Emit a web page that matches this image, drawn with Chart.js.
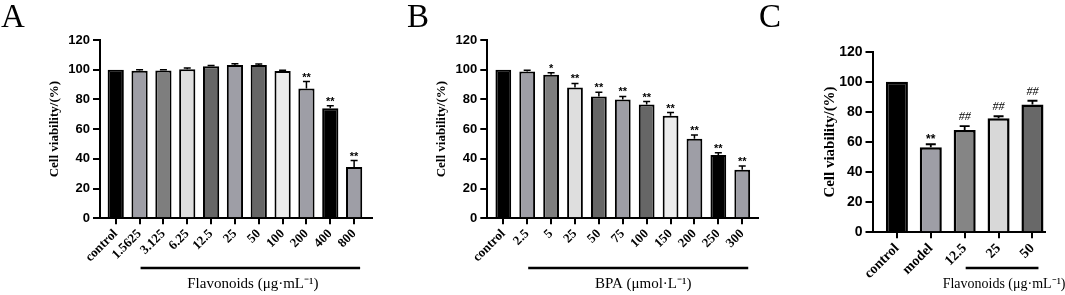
<!DOCTYPE html>
<html>
<head>
<meta charset="utf-8">
<script src="https://cdn.jsdelivr.net/npm/chart.js@4/dist/chart.umd.min.js"></script>
<style>
  body { margin: 0; background: #fff; }
  #wrap { position: relative; width: 1065px; height: 295px; overflow: hidden; }
  canvas { position: absolute; top: 0; }
  .tag { position: absolute; top: 0; font: 33px "Liberation Serif", serif; line-height: 33px; color: #000; }
</style>
</head>
<body>
<div id="wrap">
  <canvas id="chartA" width="380" height="295" style="left:0"></canvas>
  <canvas id="chartB" width="380" height="295" style="left:380px"></canvas>
  <canvas id="chartC" width="305" height="295" style="left:760px"></canvas>
  <div class="tag" style="left:1px">A</div>
  <div class="tag" style="left:407px">B</div>
  <div class="tag" style="left:759px">C</div>
</div>
<script>
// panel A: flavonoid dose series
const catsA = ['control', '1.5625', '3.125', '6.25', '12.5', '25', '50', '100', '200', '400', '800'];
const valsA = [100, 99.3, 99.5, 100.3, 102.3, 103.2, 103.2, 99.2, 87.4, 74, 34.5];
const errA  = [0, 0.7, 0.5, 0.8, 0.5, 0.8, 0.6, 0.5, 4.6, 1.7, 4.4];
const sigA  = ['', '', '', '', '', '', '', '', '**', '**', '**'];

// panel B: BPA dose series
const catsB = ['control', '2.5', '5', '25', '50', '75', '100', '150', '200', '250', '300'];
const valsB = [100, 98.8, 96.6, 88.1, 82, 80, 76.6, 69, 53.5, 42.6, 32.6];
const errB  = [0, 0.8, 1.4, 2.7, 2.9, 2, 2, 2.2, 2.5, 1.6, 2.6];
const sigB  = ['', '', '*', '**', '**', '**', '**', '**', '**', '**', '**'];

// panel C: protection
const catsC = ['control', 'model', '12.5', '25', '50'];
const valsC = [100, 56.5, 68, 75.8, 85];
const errC  = [0, 2, 2.6, 1.3, 2.4];
const sigC  = ['', '**', '##', '##', '##'];

const yTicks = [0, 20, 40, 60, 80, 100, 120];

const BLACK = '#000', MID = '#9e9ea6', DARK = '#7e7e7e', DARKER = '#666666', LIGHT = '#dedede', PALE = '#ececec';
const colorsA = [BLACK, MID, DARK, LIGHT, DARKER, MID, DARKER, PALE, MID, BLACK, MID];
const colorsB = [BLACK, MID, DARK, LIGHT, DARKER, MID, DARKER, PALE, MID, BLACK, MID];
const colorsC = [BLACK, MID, '#858585', '#d8d8d8', '#686868'];

function extras(p) {
  return {
    id: 'extras',
    afterDatasetsDraw(chart) {
      const ctx = chart.ctx, xs = chart.scales.x, ys = chart.scales.y;
      ctx.save();
      ctx.strokeStyle = '#000';
      ctx.fillStyle = '#000';
      p.vals.forEach((v, i) => {
        const cx = xs.getPixelForValue(i);
        const e = p.errs[i];
        const top = ys.getPixelForValue(v + e);
        if (e > 0) {
          ctx.lineWidth = p.errWidth;
          ctx.beginPath();
          ctx.moveTo(cx, ys.getPixelForValue(v));
          ctx.lineTo(cx, top);
          ctx.moveTo(cx - p.cap, top);
          ctx.lineTo(cx + p.cap, top);
          ctx.stroke();
        }
        const m = p.marks[i];
        if (m) {
          const hash = m[0] === '#';
          ctx.font = hash ? p.hashFont : p.starFont;
          ctx.textAlign = 'center';
          ctx.textBaseline = 'alphabetic';
          ctx.fillText(m, cx, top - (hash ? p.hashGap : p.starGap));
        }
      });
      // bracket line under the treated groups
      const x1 = xs.getPixelForValue(p.from) + 1;
      const x2 = xs.getPixelForValue(p.to) + 6;
      ctx.lineWidth = 2.3;
      ctx.beginPath();
      ctx.moveTo(x1, p.lineY);
      ctx.lineTo(x2, p.lineY);
      ctx.stroke();
      ctx.font = p.groupFont;
      ctx.textAlign = 'center';
      ctx.textBaseline = 'middle';
      ctx.fillText(p.groupTitle, (x1 + x2) / 2 + p.shift, p.groupY);
      ctx.restore();
    }
  };
}

function makePanel(id, cats, vals, errs, marks, colors, s) {
  return new Chart(id, {
    type: 'bar',
    data: {
      datasets: [{
        data: vals.map((v, i) => ({ x: i, y: v })),
        backgroundColor: colors,
        borderColor: '#000',
        borderWidth: s.barBorder,
        barPercentage: s.barPct,
        categoryPercentage: 1
      }]
    },
    options: {
      responsive: false,
      animation: false,
      layout: { padding: { top: s.top, right: s.right, bottom: 0, left: 0 } },
      plugins: { legend: { display: false }, tooltip: { enabled: false } },
      scales: {
        x: {
          type: 'linear',
          offset: false,
          min: s.xMin,
          max: s.xMax,
          afterBuildTicks: sc => { sc.ticks = cats.map((c, i) => ({ value: i })); },
          afterFit: sc => { sc.height = 295 - s.bottom; },
          grid: { offset: false, drawOnChartArea: false, tickLength: 6, lineWidth: 2, color: '#000' },
          border: { color: '#000', width: 2 },
          ticks: {
            autoSkip: false,
            minRotation: 45,
            maxRotation: 45,
            padding: 2,
            color: '#000',
            font: { family: 'Liberation Serif', weight: 'bold', size: s.xFont },
            callback: v => cats[Math.round(v)]
          }
        },
        y: {
          min: 0,
          max: 120,
          afterBuildTicks: sc => { sc.ticks = yTicks.map(v => ({ value: v })); },
          afterFit: sc => { sc.width = s.left; },
          grid: { drawOnChartArea: false, tickLength: 7, lineWidth: 2, color: '#000' },
          border: { color: '#000', width: 2 },
          ticks: {
            padding: 3,
            color: '#000',
            font: { family: 'Liberation Sans', weight: 'bold', size: s.yFont }
          },
          title: {
            display: true,
            text: 'Cell viability/(%)',
            color: '#000',
            padding: { top: s.titlePad, bottom: 0 },
            font: { family: 'Liberation Serif', weight: 'bold', size: s.titleFont }
          }
        }
      }
    },
    plugins: [extras({
      vals, errs, marks,
      errWidth: s.errWidth, cap: s.cap,
      starFont: 'bold ' + s.markFont + 'px "Liberation Sans"',
      hashFont: 'italic ' + s.markFont + 'px "Liberation Serif"',
      starGap: 1, hashGap: 6,
      from: s.from, to: s.to, lineY: 268,
      groupTitle: s.groupTitle, groupFont: s.groupFont + 'px "Liberation Serif"',
      groupY: 284.5, shift: s.shift
    })]
  });
}

makePanel('chartA', catsA, valsA, errA, sigA, colorsA, {
  top: 40, bottom: 218.3, left: 100, right: 8,
  xMin: -0.66, xMax: 10.75, barPct: 0.68, barBorder: 2,
  xFont: 13, yFont: 13, titleFont: 13, titlePad: 47, markFont: 11,
  errWidth: 1.5, cap: 3.5,
  from: 1, to: 10, groupTitle: 'Flavonoids (μg·mL⁻¹)', groupFont: 15, shift: 2.5
});

makePanel('chartB', catsB, valsB, errB, sigB, colorsB, {
  top: 40, bottom: 218.3, left: 107.3, right: 2,
  xMin: -0.67, xMax: 10.66, barPct: 0.66, barBorder: 2,
  xFont: 13, yFont: 13, titleFont: 13, titlePad: 54, markFont: 11,
  errWidth: 1.5, cap: 3.5,
  from: 1, to: 10, groupTitle: 'BPA (μmol·L⁻¹)', groupFont: 15, shift: 5
});

makePanel('chartC', catsC, valsC, errC, sigC, colorsC, {
  top: 51.7, bottom: 232.3, left: 112.5, right: 20,
  xMin: -0.72, xMax: 4.37, barPct: 0.65, barBorder: 2.5,
  xFont: 14, yFont: 14, titleFont: 15, titlePad: 61, markFont: 12,
  errWidth: 1.8, cap: 5,
  from: 2, to: 4, groupTitle: 'Flavonoids (μg·mL⁻¹)', groupFont: 14, shift: 2
});
</script>
</body>
</html>
